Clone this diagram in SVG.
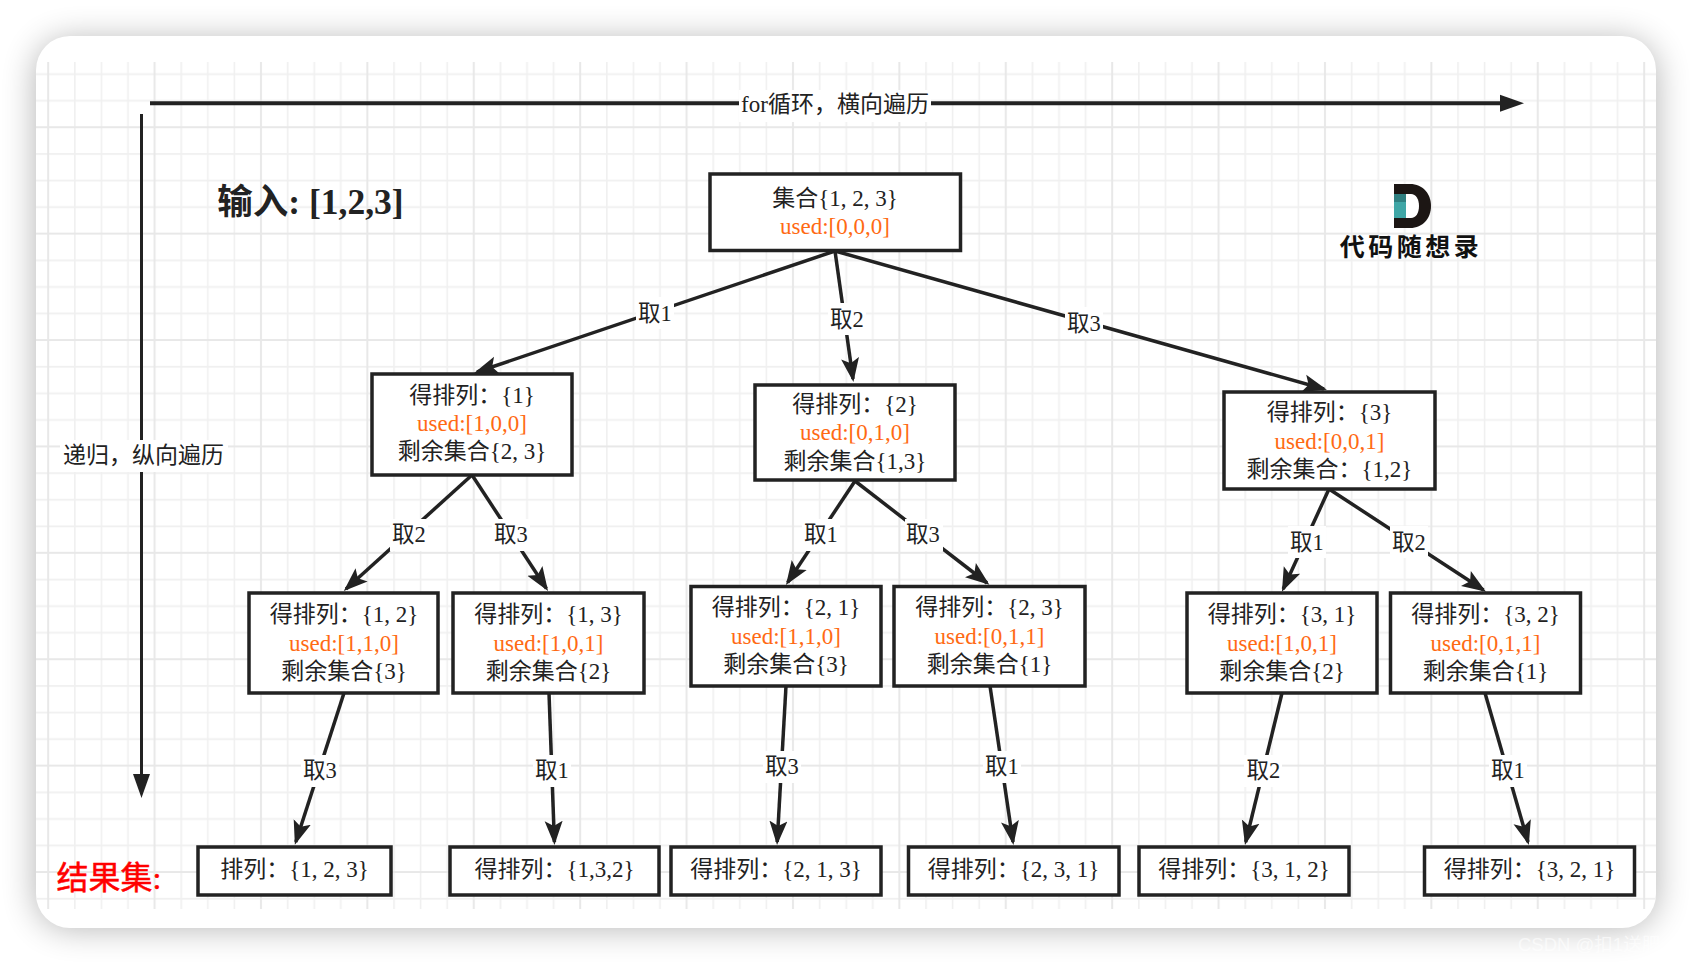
<svg xmlns="http://www.w3.org/2000/svg" width="1692" height="964" viewBox="0 0 1692 964">
<style>
text{font-family:"Liberation Serif","Noto Sans CJK SC",serif;font-size:23px;fill:#222;text-anchor:middle}
#edge-labels text{font-size:22.5px}
.o{fill:#ff6a13}
.box{fill:#fff;stroke:#222;stroke-width:3.5}
.edge{fill:none;stroke:#222;stroke-width:3.5;marker-end:url(#arrow)}
.lab{fill:#fff}
.axis{fill:none;stroke:#222}
</style>
<defs>
<filter id="shadow" x="-10%" y="-10%" width="120%" height="120%"><feGaussianBlur stdDeviation="17"/></filter>
<marker id="arrow" markerUnits="userSpaceOnUse" viewBox="0 -10 25 20" refX="21" refY="0" markerWidth="25" markerHeight="20" orient="auto"><path d="M0,-9L24,0L0,9L5,0Z" fill="#222"/></marker>
<marker id="axisHead" markerUnits="userSpaceOnUse" viewBox="0 -10 25 20" refX="0" refY="0" markerWidth="25" markerHeight="20" orient="auto"><path d="M0,-8.5L24,0L0,8.5Z" fill="#222"/></marker>
<pattern id="grid" patternUnits="userSpaceOnUse" x="35.2" y="114.3" width="106.4" height="106.4">
<path d="M13,0V106.4M39.6,0V106.4M66.2,0V106.4M92.8,0V106.4M0,13H106.4M0,39.6H106.4M0,66.2H106.4M0,92.8H106.4" stroke="#f0f0f0" stroke-width="1.6" fill="none"/>
<path d="M13,0V106.4M0,13H106.4" stroke="#e8e8e8" stroke-width="2" fill="none"/>
</pattern>
</defs>
<rect width="1692" height="964" fill="#fff"/>
<g id="panel">
<rect x="36" y="40" width="1620" height="888" rx="34" fill="#000" opacity=".3" filter="url(#shadow)"/>
<rect x="36" y="36" width="1620" height="892" rx="34" fill="#fff"/>
<rect x="36" y="62" width="1620" height="847" fill="url(#grid)"/>
</g>
<g id="axes">
<path class="axis" stroke-width="4" d="M150,103.3H1500" marker-end="url(#axisHead)"/>
<rect class="lab" x="739" y="90" width="192" height="32"/>
<text x="835" y="112">for循环，横向遍历</text>
<path class="axis" stroke-width="3" d="M141.5,114V774" marker-end="url(#axisHead)"/>
<rect class="lab" x="60" y="440" width="168" height="32"/>
<text x="143.5" y="463">递归，纵向遍历</text>
</g>
<g id="connectors">
<path class="edge" d="M835,251L477,372"/>
<path class="edge" d="M835,251L853,379"/>
<path class="edge" d="M835,251L1324,389"/>
<path class="edge" d="M472,475L346,589"/>
<path class="edge" d="M472,475L546.4,588.5"/>
<path class="edge" d="M855,481L787.6,582.5"/>
<path class="edge" d="M855,481L987,583"/>
<path class="edge" d="M1329,489L1283.2,589"/>
<path class="edge" d="M1329,489L1483.5,590"/>
<path class="edge" d="M344,693L295.8,842"/>
<path class="edge" d="M549,693L554.4,842"/>
<path class="edge" d="M786,686L777.2,842"/>
<path class="edge" d="M990,686L1013,842"/>
<path class="edge" d="M1282,693L1245.7,842"/>
<path class="edge" d="M1485,693L1528,842"/>
</g>
<g id="edge-labels">
<rect class="lab" x="636" y="297" width="38" height="32"/><text x="655" y="321">取1</text>
<rect class="lab" x="828" y="303" width="38" height="32"/><text x="847" y="327">取2</text>
<rect class="lab" x="1065" y="307" width="38" height="32"/><text x="1084" y="331">取3</text>
<rect class="lab" x="390" y="519" width="38" height="32"/><text x="409" y="542">取2</text>
<rect class="lab" x="492" y="519" width="38" height="32"/><text x="511" y="542">取3</text>
<rect class="lab" x="802" y="519" width="38" height="32"/><text x="821" y="542">取1</text>
<rect class="lab" x="905" y="519" width="38" height="32"/><text x="923" y="542">取3</text>
<rect class="lab" x="1288" y="526" width="38" height="32"/><text x="1307" y="550">取1</text>
<rect class="lab" x="1390" y="526" width="38" height="32"/><text x="1409" y="550">取2</text>
<rect class="lab" x="301" y="755" width="38" height="32"/><text x="320" y="778">取3</text>
<rect class="lab" x="533" y="755" width="38" height="32"/><text x="552" y="778">取1</text>
<rect class="lab" x="763" y="751" width="38" height="32"/><text x="782" y="774">取3</text>
<rect class="lab" x="983" y="751" width="38" height="32"/><text x="1002" y="774">取1</text>
<rect class="lab" x="1244" y="755" width="38" height="32"/><text x="1263.5" y="778">取2</text>
<rect class="lab" x="1489" y="755" width="38" height="32"/><text x="1508" y="778">取1</text>
</g>
<g id="root"><rect class="box" x="710" y="174" width="250.5" height="76.5"/><text x="835" y="206">集合{1, 2, 3}</text><text class="o" x="835" y="234">used:[0,0,0]</text></g>
<g id="n1"><rect class="box" x="372" y="374" width="200" height="101"/><text x="472" y="403">得排列：{1}</text><text class="o" x="472" y="431">used:[1,0,0]</text><text x="472" y="459">剩余集合{2, 3}</text></g>
<g id="n2"><rect class="box" x="755" y="385" width="200" height="95"/><text x="855" y="411.5">得排列：{2}</text><text class="o" x="855" y="439.5">used:[0,1,0]</text><text x="855" y="468.5">剩余集合{1,3}</text></g>
<g id="n3"><rect class="box" x="1224" y="392" width="211" height="97"/><text x="1329.5" y="420">得排列：{3}</text><text class="o" x="1329.5" y="448.5">used:[0,0,1]</text><text x="1329.5" y="477">剩余集合：{1,2}</text></g>
<g id="n12"><rect class="box" x="249" y="593" width="189" height="100"/><text x="344" y="622">得排列：{1, 2}</text><text class="o" x="344" y="650.5">used:[1,1,0]</text><text x="344" y="679">剩余集合{3}</text></g>
<g id="n13"><rect class="box" x="453" y="593" width="191" height="100"/><text x="548.5" y="622">得排列：{1, 3}</text><text class="o" x="548.5" y="650.5">used:[1,0,1]</text><text x="548.5" y="679">剩余集合{2}</text></g>
<g id="n21"><rect class="box" x="691" y="586.5" width="190" height="99.5"/><text x="786" y="615">得排列：{2, 1}</text><text class="o" x="786" y="643.5">used:[1,1,0]</text><text x="786" y="672">剩余集合{3}</text></g>
<g id="n23"><rect class="box" x="894" y="586.5" width="191" height="99.5"/><text x="989.5" y="615">得排列：{2, 3}</text><text class="o" x="989.5" y="643.5">used:[0,1,1]</text><text x="989.5" y="672">剩余集合{1}</text></g>
<g id="n31"><rect class="box" x="1187" y="593" width="190" height="100"/><text x="1282" y="622">得排列：{3, 1}</text><text class="o" x="1282" y="650.5">used:[1,0,1]</text><text x="1282" y="679">剩余集合{2}</text></g>
<g id="n32"><rect class="box" x="1390.5" y="593" width="190" height="100"/><text x="1485.5" y="622">得排列：{3, 2}</text><text class="o" x="1485.5" y="650.5">used:[0,1,1]</text><text x="1485.5" y="679">剩余集合{1}</text></g>
<g id="r123"><rect class="box" x="198" y="847" width="193" height="48"/><text x="294.5" y="877">排列：{1, 2, 3}</text></g>
<g id="r132"><rect class="box" x="450" y="847" width="209" height="48"/><text x="554.5" y="877">得排列：{1,3,2}</text></g>
<g id="r213"><rect class="box" x="671" y="847" width="210" height="48"/><text x="776" y="877">得排列：{2, 1, 3}</text></g>
<g id="r231"><rect class="box" x="908.5" y="847" width="210.5" height="48"/><text x="1013.5" y="877">得排列：{2, 3, 1}</text></g>
<g id="r312"><rect class="box" x="1139" y="847" width="210" height="48"/><text x="1244" y="877">得排列：{3, 1, 2}</text></g>
<g id="r321"><rect class="box" x="1424.5" y="847" width="210" height="48"/><text x="1529.5" y="877">得排列：{3, 2, 1}</text></g>
<g id="title"><text x="310.5" y="214" style="font-size:35.5px;font-weight:bold">输入: [1,2,3]</text></g>
<g id="result-label"><text x="109" y="889" style="font-size:32px;fill:#f00;stroke:#f00;stroke-width:.5">结果集:</text></g>
<g id="logo">
<path d="M1394,184H1410C1423,184 1431,194 1431,206C1431,218 1423,228 1410,228H1394Z" fill="#1c1614"/>
<path d="M1406,194H1411C1416,194 1419,199 1419,206C1419,213 1416,218 1411,218H1406Z" fill="#fff"/>
<rect x="1394" y="194" width="12" height="24" fill="#3fa6a6"/>
<rect x="1394" y="194" width="12" height="8" fill="#2f7f80"/>
<text x="1411" y="256" style="font-size:25px;font-weight:bold;letter-spacing:3.5px;fill:#111">代码随想录</text>
</g>
<g id="watermark"><text x="1518" y="951" style="text-anchor:start;font-size:18.5px;fill:#fff;fill-opacity:.6;font-family:'Liberation Sans','Noto Sans CJK SC',sans-serif">CSDN @扣1送肥</text></g>
</svg>
